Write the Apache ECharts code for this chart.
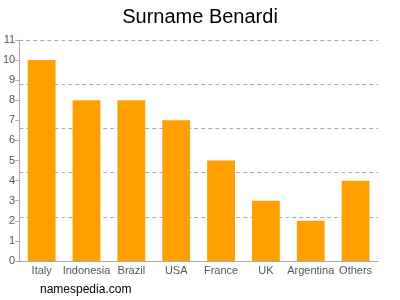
<!DOCTYPE html>
<html><head><meta charset="utf-8">
<script src="https://cdn.jsdelivr.net/npm/echarts@6/dist/echarts.min.js"></script>
<style>html,body{margin:0;padding:0;background:#fff}#c{width:400px;height:300px}</style>
</head><body><div id="c"></div>
<script>
const categories = ["Italy","Indonesia","Brazil","USA","France","UK","Argentina","Others"];
const values = [10,8,8,7,5,3,2,4];
const yTicks = [0,1,2,3,4,5,6,7,8,9,10,11];
const chart = echarts.init(document.getElementById('c'), null, {renderer:'canvas'});
chart.setOption({
  animation:false,
  title:{text:'Surname Benardi',left:'center',top:2,textStyle:{fontFamily:'Liberation Sans, Arial',fontSize:20,fontWeight:'normal',color:'#000'}},
  graphic:[{type:'text',left:40,top:284,style:{text:'namespedia.com',font:'12px "Liberation Sans", Arial',fill:'#000'}}],
  grid:{left:18,right:22,top:40,bottom:39},
  xAxis:{type:'category',data:categories,
    axisLine:{lineStyle:{color:'#aaa'}},
    axisTick:{alignWithLabel:true,length:4,lineStyle:{color:'#aaa'}},
    axisLabel:{color:'#555',fontSize:11,fontFamily:'Liberation Sans, Arial',margin:4,interval:0}},
  yAxis:[{type:'value',min:0,max:11,interval:1,
    axisLine:{show:true,lineStyle:{color:'#aaa'}},
    axisTick:{show:true,length:4,lineStyle:{color:'#aaa'}},
    axisLabel:{color:'#555',fontSize:11,fontFamily:'Liberation Sans, Arial',margin:4,formatter:v=>yTicks.includes(v)?String(v):''},
    splitLine:{show:false}},
   {type:'value',min:0,max:11,interval:2.2,position:'left',
    axisLine:{show:false},axisTick:{show:false},axisLabel:{show:false},
    splitLine:{show:true,lineStyle:{color:'#aaa',type:[4,3]}}}],
  series:[{type:'bar',data:values,yAxisIndex:0,barWidth:'62%',
    itemStyle:{color:'#FFA000'}}]
});
</script></body></html>
